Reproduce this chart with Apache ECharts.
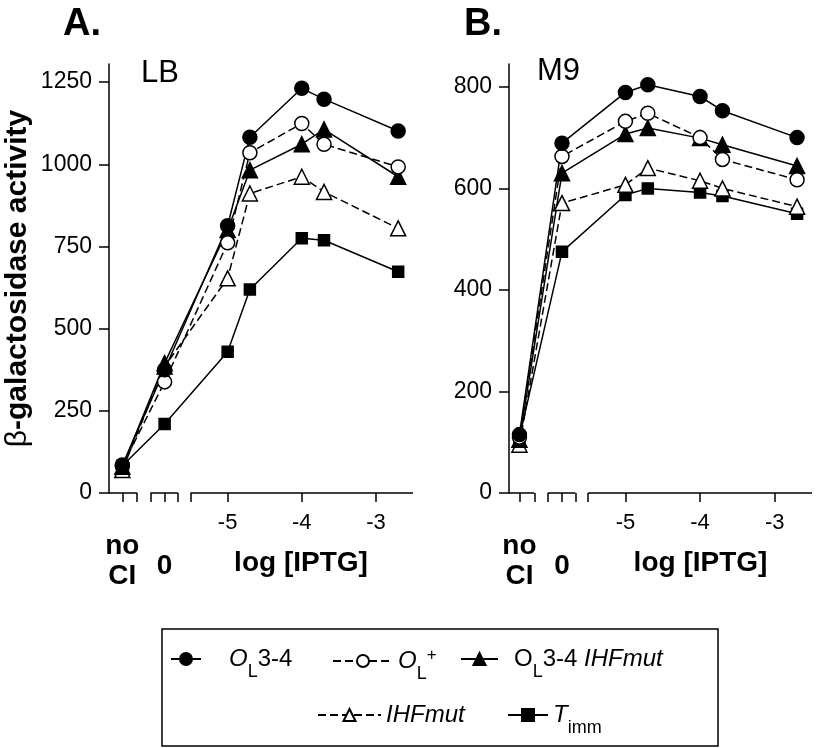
<!DOCTYPE html>
<html>
<head>
<meta charset="utf-8">
<script src="https://cdn.jsdelivr.net/npm/echarts@6/dist/echarts.min.js"></script>
<style>
  html, body { margin: 0; padding: 0; background: #fff; }
  #chart { width: 816px; height: 748px; }
</style>
</head>
<body>
<div id="chart"></div>
<script>
// x positions: "no CI", "0" and log[IPTG] values, drawn on one value axis
const xNoCI = -6.42;
const xZero = -5.85;
const logIPTG = [-5, -4.7, -4, -3.7, -2.7];
const xPositions = [xNoCI, xZero, ...logIPTG];

// axis breaks (segments of the x axis line)
const axisSegments = [[-6.6, -6.22], [-6.04, -5.67], [-5.5, -2.5]];
const xTicks = [xNoCI, -6.22, -6.04, xZero, -5.67, -5.5, -5, -4, -3];
const xLabels = [xNoCI, xZero, -5, -4, -3];

const lbTicks = [0, 250, 500, 750, 1000, 1250];
const m9Ticks = [0, 200, 400, 600, 800];

// A. LB
const lbOL34 = [85, 375, 813, 1082, 1231, 1198, 1101];
const lbOLplus = [82, 338, 761, 1035, 1124, 1061, 992];
const lbOL34IHF = [80, 395, 800, 982, 1061, 1106, 962];
const lbIHF = [70, 385, 653, 911, 962, 916, 805];
const lbTimm = [83, 210, 430, 619, 775, 769, 673];

// B. M9
const m9OL34 = [115, 689, 789, 804, 781, 753, 700];
const m9OLplus = [110, 663, 732, 748, 700, 657, 617];
const m9OL34IHF = [105, 630, 707, 719, 699, 686, 644];
const m9IHF = [95, 571, 607, 640, 615, 600, 564];
const m9Timm = [110, 475, 587, 600, 592, 585, 550];

const FONT = 'Liberation Sans, Arial, Helvetica, sans-serif';

const styles = {
  'OL34': { symbol: 'circle', size: 14, fill: '#000', dash: 'solid' },
  'OLplus': { symbol: 'circle', size: 14, fill: '#fff', dash: [8, 4] },
  'OL34IHF': { symbol: 'triangle', size: 15, fill: '#000', dash: 'solid' },
  'IHF': { symbol: 'triangle', size: 15, fill: '#fff', dash: [8, 4] },
  'Timm': { symbol: 'rect', size: 11, fill: '#000', dash: 'solid' }
};

const pairs = (vals) => xPositions.map((x, i) => [x, vals[i]]);

const makeSeries = (name, vals, grid) => {
  const s = styles[name];
  return {
    name: name,
    type: 'line',
    xAxisIndex: grid,
    yAxisIndex: grid,
    data: pairs(vals),
    symbol: s.symbol,
    symbolSize: s.size,
    lineStyle: { color: '#000', width: 1.5, type: s.dash },
    itemStyle: { color: s.fill, borderColor: '#000', borderWidth: 1.5 },
    z: 2,
    animation: false
  };
};

const axisLineSeries = (grid, xmin) => ({
  type: 'lines',
  coordinateSystem: 'cartesian2d',
  xAxisIndex: grid,
  yAxisIndex: grid,
  silent: true,
  clip: false,
  z: 5,
  lineStyle: { color: '#000', width: 1.5, opacity: 1 },
  data: axisSegments.map((seg, i) => ({ coords: [[i === 0 ? xmin : seg[0], 0], [seg[1], 0]] })),
  animation: false
});

// white cuts in the data lines where the axis is broken
const breakCut = (grid) => ({
  type: 'line',
  xAxisIndex: grid,
  yAxisIndex: grid,
  data: [],
  silent: true,
  z: 3,
  markArea: {
    silent: true,
    itemStyle: { color: '#fff', opacity: 1 },
    data: [
      [{ xAxis: -6.16 }, { xAxis: -6.10 }],
      [{ xAxis: -5.60 }, { xAxis: -5.54 }]
    ]
  }
});

const xAxisFor = (grid, xmin) => ({
  type: 'value',
  gridIndex: grid,
  min: xmin,
  max: -2.5,
  name: 'log [IPTG]',
  nameLocation: 'middle',
  nameGap: 56,
  nameMoveOverlap: false,
  nameTextStyle: { fontSize: 28, fontWeight: 'bold', fontFamily: FONT, color: '#000', padding: [0, 0, 0, 80] },
  axisLine: { show: false },
  splitLine: { show: false },
  axisTick: { show: true, inside: false, length: 9, customValues: xTicks, lineStyle: { color: '#000', width: 1.5 } },
  axisLabel: {
    customValues: xLabels,
    margin: 19,
    color: '#000',
    fontFamily: FONT,
    fontSize: 22,
    verticalAlign: 'top',
    hideOverlap: false,
    formatter: (v) => {
      if (v === xNoCI) return '{t| }\n{no|no}\n{ci|CI}';
      if (v === xZero) return '{t| }\n{z|0}';
      return '{t|' + v + '}';
    },
    rich: {
      t: { fontSize: 22, lineHeight: 22, fontFamily: FONT, color: '#000' },
      no: { fontSize: 28, lineHeight: 24, fontWeight: 'bold', fontFamily: FONT, color: '#000' },
      ci: { fontSize: 28, lineHeight: 36, fontWeight: 'bold', fontFamily: FONT, color: '#000' },
      z: { fontSize: 28, lineHeight: 64, fontWeight: 'bold', fontFamily: FONT, color: '#000' }
    }
  }
});

const yAxisFor = (grid, max, ticks, withName) => ({
  type: 'value',
  gridIndex: grid,
  min: 0,
  max: max,
  name: withName ? '{n|β}-galactosidase activity' : '',
  nameLocation: 'middle',
  nameRotate: 90,
  nameGap: 76,
  nameTextStyle: {
    fontSize: 30, fontWeight: 'bold', fontFamily: FONT, color: '#000',
    rich: { n: { fontSize: 30, fontWeight: 'normal', fontFamily: FONT, color: '#000' } }
  },
  axisLine: { show: true, lineStyle: { color: '#000', width: 1.5 } },
  splitLine: { show: false },
  axisTick: { show: true, length: 10, customValues: ticks, lineStyle: { color: '#000', width: 1.5 } },
  axisLabel: { customValues: ticks, margin: 17, color: '#000', fontFamily: FONT, fontSize: 23, formatter: (v) => String(v) }
});

const legendItem = (name, left, top, width, text, padLeft) => ({
  data: [name],
  left: left,
  top: top,
  padding: 0,
  itemWidth: width,
  itemHeight: 15,
  selectedMode: false,
  formatter: () => text,
  textStyle: {
    fontSize: 24, fontFamily: FONT, color: '#000',
    rich: {
      p: { width: padLeft },
      i: { fontSize: 24, fontStyle: 'italic', fontFamily: FONT, color: '#000', lineHeight: 28 },
      r: { fontSize: 24, fontFamily: FONT, color: '#000', lineHeight: 28 },
      sub: { fontSize: 18, fontFamily: FONT, color: '#000', verticalAlign: 'bottom', lineHeight: 18, padding: [0, 0, -8, 0] },
      sup: { fontSize: 17, fontFamily: FONT, color: '#000', verticalAlign: 'top', lineHeight: 17 }
    }
  }
});

const chart = echarts.init(document.getElementById('chart'));

chart.setOption({
  backgroundColor: '#fff',
  animation: false,
  title: [
    { text: 'A.', left: 63, top: 6, padding: 0, textStyle: { fontSize: 38, fontWeight: 'bold', fontFamily: FONT, color: '#000' } },
    { text: 'B.', left: 464, top: 6, padding: 0, textStyle: { fontSize: 38, fontWeight: 'bold', fontFamily: FONT, color: '#000' } },
    { text: 'LB', left: 141, top: 58, padding: 0, textStyle: { fontSize: 31, fontWeight: 'normal', fontFamily: FONT, color: '#000' } },
    { text: 'M9', left: 537, top: 56, padding: 0, textStyle: { fontSize: 31, fontWeight: 'normal', fontFamily: FONT, color: '#000' } }
  ],
  grid: [
    { left: 109, top: 64, width: 304, height: 429 },
    { left: 509, top: 64, width: 303, height: 429 }
  ],
  xAxis: [xAxisFor(0, -6.6), xAxisFor(1, -6.56)],
  yAxis: [yAxisFor(0, 1305, lbTicks, true), yAxisFor(1, 845, m9Ticks, false)],
  legend: [
    legendItem('OL34', 170, 647, 30, '{p|}{i|O}{sub|L}{r|3-4}', 23),
    legendItem('OLplus', 332, 647, 60, '{i|O}{sub|L}{sup|+}', 0),
    legendItem('OL34IHF', 460, 647, 37, '{p|}{r|O}{sub|L}{r|3-4 }{i|IHFmut}', 11),
    legendItem('IHF', 317, 703, 63, '{i|IHFmut}', 0),
    legendItem('Timm', 507, 703, 40, '{i|T}{sub|imm}', 0)
  ],
  graphic: [
    { type: 'rect', shape: { x: 162, y: 629, width: 556, height: 117 }, style: { fill: 'none', stroke: '#000', lineWidth: 1.5 }, silent: true }
  ],
  series: [
    makeSeries('Timm', lbTimm, 0),
    makeSeries('IHF', lbIHF, 0),
    makeSeries('OL34IHF', lbOL34IHF, 0),
    makeSeries('OLplus', lbOLplus, 0),
    makeSeries('OL34', lbOL34, 0),
    makeSeries('Timm', m9Timm, 1),
    makeSeries('IHF', m9IHF, 1),
    makeSeries('OL34IHF', m9OL34IHF, 1),
    makeSeries('OLplus', m9OLplus, 1),
    makeSeries('OL34', m9OL34, 1),
    breakCut(0),
    breakCut(1),
    axisLineSeries(0, -6.6),
    axisLineSeries(1, -6.56)
  ]
});

window.addEventListener('resize', () => {
  chart.resize();
});
</script>
</body>
</html>
